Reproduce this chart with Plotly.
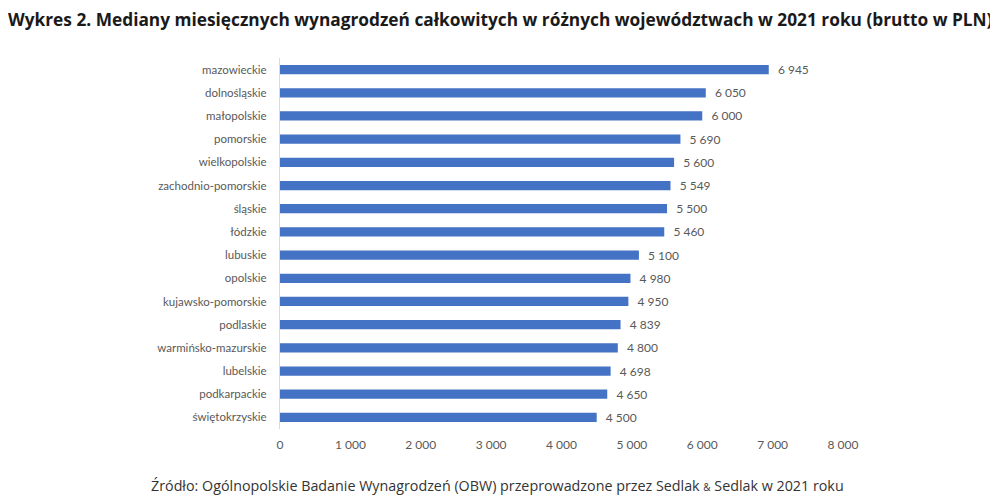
import plotly.graph_objects as go

# wojewodztwa, od najwyzszej mediany
regions = [
    "mazowieckie", "dolnośląskie", "małopolskie", "pomorskie", "wielkopolskie",
    "zachodnio-pomorskie", "śląskie", "łódzkie", "lubuskie", "opolskie",
    "kujawsko-pomorskie", "podlaskie", "warmińsko-mazurskie", "lubelskie",
    "podkarpackie", "świętokrzyskie",
]
medians = [6945, 6050, 6000, 5690, 5600, 5549, 5500, 5460, 5100, 4980,
           4950, 4839, 4800, 4698, 4650, 4500]
x_ticks = [0, 1000, 2000, 3000, 4000, 5000, 6000, 7000, 8000]

label_font = dict(family="Lato, Open Sans, sans-serif", size=11.5, color="#595959")
tick_font = dict(family="Lato, Open Sans, sans-serif", size=12, color="#595959")

fig = go.Figure()
fig.add_trace(go.Bar(
    x=medians,
    y=regions,
    orientation="h",
    marker=dict(color="#4472C4", line_width=0),
    texttemplate="  %{x:,d}",
    textposition="outside",
    constraintext="none",
    textfont=tick_font,
    cliponaxis=False,
    hoverinfo="none",
))

# the page body adds an 8px margin, so the figure is 8px smaller each way
fig.update_layout(
    width=990, height=495,
    margin=dict(l=272, r=155, t=50, b=74),
    paper_bgcolor="white", plot_bgcolor="white",
    separators=", ",
    bargap=0.6,
    showlegend=False,
    title=dict(
        text="Wykres 2. Mediany miesięcznych wynagrodzeń całkowitych w różnych województwach w 2021 roku (brutto w PLN)",
        x=0, xanchor="left", y=0.976, yanchor="middle",
        font=dict(family="Open Sans, sans-serif", size=17.3, color="#1a1a1a", weight="bold"),
    ),
    annotations=[dict(
        text="Źródło: Ogólnopolskie Badanie Wynagrodzeń (OBW) przeprowadzone przez Sedlak <span style='font-size:10px'>&amp;</span> Sedlak w 2021 roku",
        xref="paper", yref="paper", x=0.387, y=-0.151, xanchor="center", yanchor="middle",
        showarrow=False,
        font=dict(family="Open Sans, sans-serif", size=14.3, color="#333333"),
    )],
)

fig.update_xaxes(
    range=[0, 8000], tickvals=x_ticks, tickformat=",d",
    showgrid=False, zeroline=False, showline=False,
    tickfont=tick_font, ticks="", ticklabelstandoff=7,
)
fig.update_yaxes(
    categoryorder="array", categoryarray=regions, autorange="reversed",
    showgrid=False, zeroline=False,
    showline=True, linecolor="#d9d9d9", linewidth=1,
    tickfont=label_font, ticks="", ticklabelstandoff=10,
)

fig.write_html("out.html")
